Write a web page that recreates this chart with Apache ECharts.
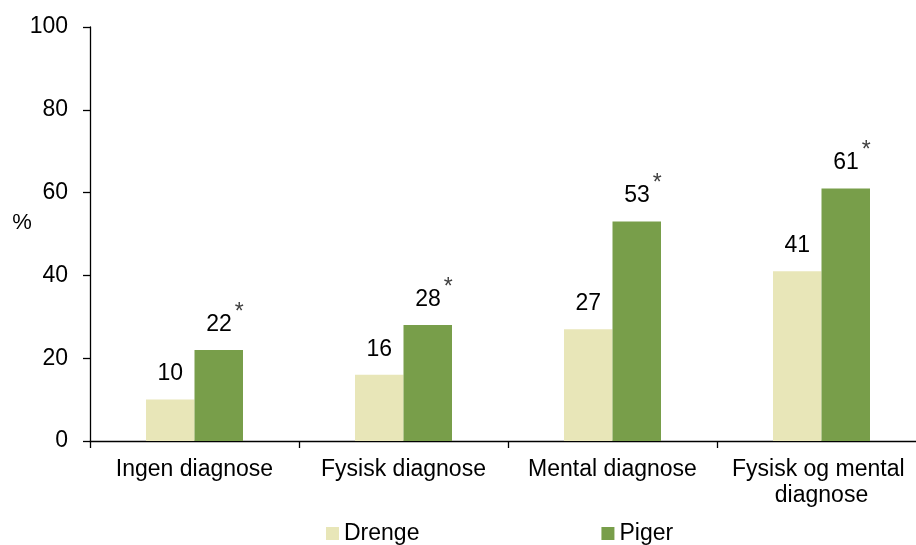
<!DOCTYPE html>
<html>
<head>
<meta charset="utf-8">
<script src="https://cdn.jsdelivr.net/npm/echarts@6/dist/echarts.min.js"></script>
<style>
  html, body { margin: 0; padding: 0; background: #fff; }
  #chart { width: 916px; height: 545px; }
</style>
</head>
<body>
<div id="chart"></div>
<script>
const categories = ['Ingen diagnose', 'Fysisk diagnose', 'Mental diagnose', 'Fysisk og mental diagnose'];
const seriesNames = ['Drenge', 'Piger'];
const drenge = [10, 16, 27, 41];
const piger = [22, 28, 53, 61];
const yTicks = [0, 20, 40, 60, 80, 100];
const significanceMark = '*';

const FONT = '"Liberation Sans", Arial, sans-serif';
const chart = echarts.init(document.getElementById('chart'), null, { renderer: 'canvas' });

chart.setOption({
  animation: false,
  backgroundColor: '#ffffff',
  textStyle: { fontFamily: FONT, color: '#000' },
  grid: { left: 90, width: 836, top: 27, height: 414, containLabel: false, outerBoundsMode: 'none' },
  legend: {
    data: seriesNames,
    left: 326,
    top: 522,
    padding: 0,
    itemGap: 182,
    itemWidth: 13,
    itemHeight: 13,
    icon: 'rect',
    textStyle: { fontFamily: FONT, fontSize: 23, color: '#000', padding: [0, 0, 0, 0] }
  },
  xAxis: {
    type: 'category',
    data: categories,
    axisLine: { show: true, lineStyle: { color: '#000', width: 1.3 } },
    axisTick: { show: true, length: 7, alignWithLabel: false, lineStyle: { color: '#000', width: 1.3 } },
    axisLabel: {
      interval: 0,
      margin: 16,
      fontFamily: FONT,
      fontSize: 23,
      lineHeight: 26,
      color: '#000',
      width: 200,
      overflow: 'break'
    },
    splitLine: { show: false }
  },
  yAxis: {
    type: 'value',
    min: yTicks[0],
    max: yTicks[yTicks.length - 1],
    interval: yTicks[1] - yTicks[0],
    name: '%',
    nameLocation: 'middle',
    nameRotate: 0,
    nameGap: 68,
    nameMoveOverlap: false,
    nameTextStyle: { fontFamily: FONT, fontSize: 22, lineHeight: 23, color: '#000', align: 'center', verticalAlign: 'bottom' },
    axisLine: { show: true, lineStyle: { color: '#000', width: 1.3 } },
    axisTick: { show: true, length: 7, inside: false, lineStyle: { color: '#000', width: 1.3 } },
    axisLabel: { margin: 22, fontFamily: FONT, fontSize: 23, color: '#000' },
    splitLine: { show: false }
  },
  series: [
    {
      name: seriesNames[0],
      type: 'bar',
      data: drenge,
      barWidth: 48.5,
      barGap: '0%',
      itemStyle: { color: '#e8e6b8' },
      label: {
        show: true,
        position: 'top',
        distance: 14,
        fontFamily: FONT,
        fontSize: 23,
        color: '#000'
      }
    },
    {
      name: seriesNames[1],
      type: 'bar',
      data: piger,
      barWidth: 48.5,
      barGap: '0%',
      itemStyle: { color: '#789e4a' },
      label: {
        show: true,
        position: 'top',
        distance: 14,
        offset: [6.2, 0],
        formatter: function (p) { return '{n|' + p.value + '}{s|' + significanceMark + '}'; },
        rich: {
          n: { fontFamily: FONT, fontSize: 23, color: '#000', height: 23, lineHeight: 23, verticalAlign: 'bottom' },
          s: { fontFamily: FONT, fontSize: 23, color: '#404040', height: 23, lineHeight: 35, verticalAlign: 'top', padding: [0, 0, 0, 3] }
        }
      }
    }
  ]
});
</script>
</body>
</html>
